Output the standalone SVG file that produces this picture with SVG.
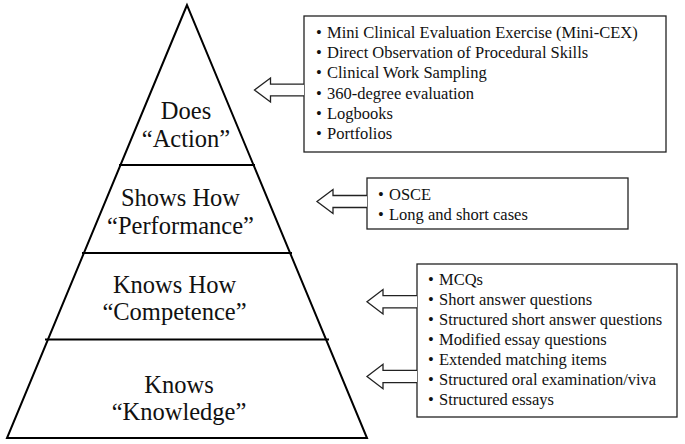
<svg xmlns="http://www.w3.org/2000/svg" width="685" height="444" viewBox="0 0 685 444">
<style>
.py{fill:none;stroke:#000;stroke-width:2;stroke-linejoin:miter}
.tier{font-family:"Liberation Serif","Times New Roman",serif;font-size:24.5px;fill:#111;text-anchor:middle}
.box{fill:#fff;stroke:#222;stroke-width:1.3}
.li{font-family:"Liberation Serif","Times New Roman",serif;font-size:16.5px;fill:#111}
.arr{fill:#fff;stroke:#222;stroke-width:1.3;stroke-linejoin:miter}
</style>
<rect width="685" height="444" fill="#fff"/>
<g id="pyramid">
<polygon class="py" points="187,5 7,438 367,438"/>
<line class="py" x1="119" y1="165" x2="255" y2="165"/>
<line class="py" x1="82" y1="253" x2="292" y2="253"/>
<line class="py" x1="45" y1="339.5" x2="329" y2="339.5"/>
</g>
<g id="tier-does"><text class="tier" x="186" y="119">Does</text><text class="tier" x="186" y="146.5">“Action”</text></g>
<g id="tier-shows"><text class="tier" x="180.5" y="206">Shows How</text><text class="tier" x="180.5" y="233.5">“Performance”</text></g>
<g id="tier-knowshow"><text class="tier" x="174.5" y="292.5">Knows How</text><text class="tier" x="174.5" y="320">“Competence”</text></g>
<g id="tier-knows"><text class="tier" x="179" y="393">Knows</text><text class="tier" x="179" y="420">“Knowledge”</text></g>
<g id="box-does">
<rect class="box" x="304" y="16" width="362" height="136"/>
<text class="li"><tspan x="316" y="38">•</tspan><tspan x="327">Mini Clinical Evaluation Exercise (Mini-CEX)</tspan></text>
<text class="li"><tspan x="316" y="58.2">•</tspan><tspan x="327">Direct Observation of Procedural Skills</tspan></text>
<text class="li"><tspan x="316" y="78.4">•</tspan><tspan x="327">Clinical Work Sampling</tspan></text>
<text class="li"><tspan x="316" y="98.6">•</tspan><tspan x="327">360-degree evaluation</tspan></text>
<text class="li"><tspan x="316" y="118.8">•</tspan><tspan x="327">Logbooks</tspan></text>
<text class="li"><tspan x="316" y="139">•</tspan><tspan x="327">Portfolios</tspan></text>
</g>
<g id="box-shows">
<rect class="box" x="367" y="178" width="261" height="51"/>
<text class="li"><tspan x="378" y="200">•</tspan><tspan x="389">OSCE</tspan></text>
<text class="li"><tspan x="378" y="220">•</tspan><tspan x="389">Long and short cases</tspan></text>
</g>
<g id="box-knows">
<rect class="box" x="417" y="264" width="260" height="153"/>
<text class="li"><tspan x="428" y="285">•</tspan><tspan x="439">MCQs</tspan></text>
<text class="li"><tspan x="428" y="305">•</tspan><tspan x="439">Short answer questions</tspan></text>
<text class="li"><tspan x="428" y="325">•</tspan><tspan x="439">Structured short answer questions</tspan></text>
<text class="li"><tspan x="428" y="345">•</tspan><tspan x="439">Modified essay questions</tspan></text>
<text class="li"><tspan x="428" y="365">•</tspan><tspan x="439">Extended matching items</tspan></text>
<text class="li"><tspan x="428" y="385">•</tspan><tspan x="439">Structured oral examination/viva</tspan></text>
<text class="li"><tspan x="428" y="405">•</tspan><tspan x="439">Structured essays</tspan></text>
</g>
<g id="connectors">
<path class="arr" d="M304,84.2 H270.5 V78 L254.5,90 L270.5,102 V95.8 H304"/>
<path class="arr" d="M367,195.5 H333 V189.5 L317,201.5 L333,213.5 V207.5 H367"/>
<path class="arr" d="M417,295.6 H383 V289.5 L367,301.7 L383,313.9 V307.8 H417"/>
<path class="arr" d="M417,370.3 H383 V364.3 L367,376.5 L383,388.7 V382.7 H417"/>
</g>
</svg>
